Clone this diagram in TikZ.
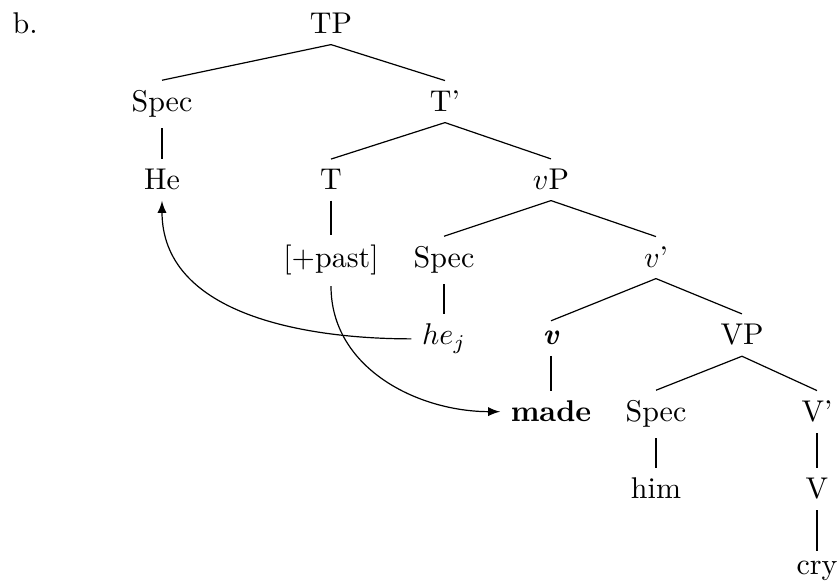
\documentclass[tikz,border=0pt]{standalone}
\usetikzlibrary{arrows}
\begin{document}
\begin{tikzpicture}[x=0.33333pt, y=-0.33333pt,
  lab/.style={anchor=base},
  edge/.style={line width=0.4pt},
  move/.style={line width=0.4pt, -latex}]
\useasboundingbox (0,0) rectangle (838,582);
\node[anchor=base west, inner sep=0pt] (b) at (12,34) {b.};
\node[lab] (tp) at (331,34) {TP};
\node[lab] (spec1) at (162,112) {Spec};
\node[lab] (tbar) at (445,112) {T’};
\node[lab] (he) at (162,190) {He};
\node[lab] (t) at (331,190) {T};
\node[lab] (vp) at (551,190) {$v$P};
\node[lab] (past) at (331,268) {[+past]};
\node[lab] (spec2) at (444,268) {Spec};
\node[lab] (vbar) at (656,268) {$v$’};
\node[lab] (hej) at (444,345) {$he_j$};
\node[lab] (v) at (551,345) {\textbf{\textit{v}}};
\node[lab] (bigvp) at (742,345) {VP};
\node[lab] (made) at (551,422) {\textbf{made}};
\node[lab] (spec3) at (656,422) {Spec};
\node[lab] (bigvbar) at (817,422) {V’};
\node[lab] (him) at (656,499) {him};
\node[lab] (bigv) at (817,499) {V};
\node[lab] (cry) at (817,575) {cry};
\foreach \p/\c in {tp/spec1, tp/tbar, spec1/he, tbar/t, tbar/vp, t/past,
  vp/spec2, vp/vbar, spec2/hej, vbar/v, vbar/bigvp, v/made, bigvp/spec3,
  bigvp/bigvbar, spec3/him, bigvbar/bigv, bigv/cry}
  \draw[edge] (\p.south) -- (\c.north);
\draw[move] (hej.west) to[out=180, in=-90] (he.south);
\draw[move] (past.south) to[out=-90, in=180] (made.west);
\end{tikzpicture}
\end{document}
